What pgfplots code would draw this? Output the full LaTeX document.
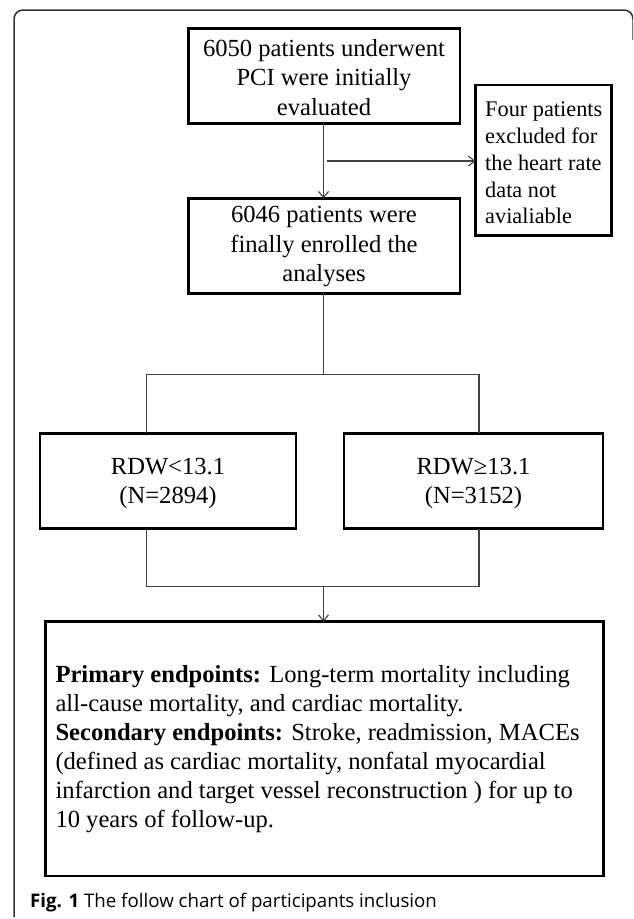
\documentclass[border=0pt]{standalone}
\usepackage{pgfplots}
\pgfplotsset{compat=1.18}
\usetikzlibrary{arrows.meta}
\usepackage{fontspec}
\setmainfont{Liberation Serif}
\newfontfamily\capfont{Open Sans}
\tikzset{
  box/.style={draw=black, line width=2.6pt, line join=miter},
  conn/.style={draw=black!75, line width=1.1pt},
  arr/.style={conn, -{Straight Barb[length=6pt,width=10pt]}},
  txt/.style={font=\fontsize{24.6}{29.6}\selectfont, inner sep=0pt, align=center},
}
\begin{document}
\begin{tikzpicture}
\begin{axis}[
  width=633pt, height=919pt, scale only axis,
  xmin=0, xmax=633, ymin=0, ymax=919, y dir=reverse,
  hide axis, clip=true,
]
\coordinate (BBa) at (rel axis cs:0,0);
\coordinate (BBb) at (rel axis cs:1,1);
% outer frame
\addplot[draw=black!80, line width=1.5pt, rounded corners=9pt, mark=none]
  coordinates {(14,917) (14,10) (633,10) (633,40)};
% boxes
\draw[box] (188.4,28.3) rectangle (460,123.3);
\draw[box] (475.3,85) rectangle (611.7,235.7);
\draw[box] (188.4,198.3) rectangle (460,293.3);
\draw[box] (40,433.3) rectangle (296,528.5);
\draw[box] (344,433.3) rectangle (603,528.5);
\draw[box] (45.5,621.7) rectangle (603.3,876);
% connectors
\addplot[arr, mark=none] coordinates {(323.5,123.3) (323.5,198.3)};
\addplot[arr, mark=none] coordinates {(326.5,161) (475.3,161)};
\addplot[conn, mark=none] coordinates {(323.5,293.3) (323.5,374.3)};
\addplot[conn, mark=none] coordinates {(146.7,433.3) (146.7,374.3) (479,374.3) (479,433.3)};
\addplot[conn, mark=none] coordinates {(146.7,528.5) (146.7,586.7) (479,586.7) (479,528.5)};
\addplot[arr, mark=none] coordinates {(323.5,586.7) (323.5,621.7)};
% texts
\node[txt] at (324,77.3) {6050 patients underwent\\PCI were initially\\evaluated};
\node[txt, font=\fontsize{22.3}{26.8}\selectfont, align=left, anchor=west] at (485,163)
  {Four patients\\excluded for\\the heart rate\\data not\\avialiable};
\node[txt] at (324,246.7) {6046 patients were\\finally enrolled the\\analyses};
\node[txt] at (168,483.3) {RDW<13.1\\(N=2894)};
\node[txt] at (473.5,483.3) {RDW≥13.1\\(N=3152)};
\node[txt, align=left, anchor=west, font=\fontsize{24.6}{29.1}\selectfont] at (55.3,749)
  {\textbf{Primary endpoints:} Long-term mortality including\\
   all-cause mortality, and cardiac mortality.\\
   \textbf{Secondary endpoints:} Stroke, readmission, MACEs\\
   (defined as cardiac mortality, nonfatal myocardial\\
   infarction and target vessel reconstruction ) for up to\\
   10 years of follow-up.};
\node[inner sep=0pt, anchor=west, font=\capfont\fontsize{18.7}{22}\selectfont] at (30,903)
  {\textbf{Fig. 1} The follow chart of participants inclusion};
\end{axis}
\pgfresetboundingbox
\useasboundingbox (BBa) rectangle (BBb);
\end{tikzpicture}
\end{document}
